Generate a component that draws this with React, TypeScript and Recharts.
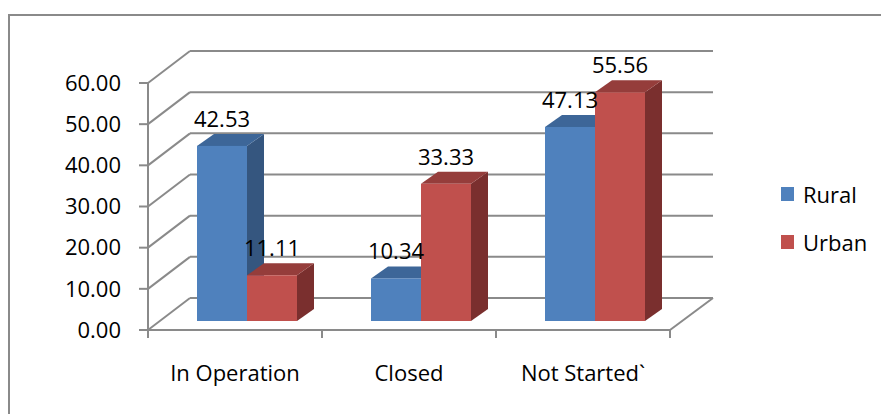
import React from 'react';
import { BarChart, Bar, XAxis, YAxis, CartesianGrid, Legend, LabelList } from 'recharts';

const categories = ['In Operation', 'Closed', 'Not Started`'];
const rural = [42.53, 10.34, 47.13];
const urban = [11.11, 33.33, 55.56];
const yTicks = [0, 10, 20, 30, 40, 50, 60];

const data = categories.map((name, i) => ({ name, rural: rural[i], urban: urban[i] }));

// 3d look: wall depth and bar depth offsets
const WALL_DX = 42;
const WALL_DY = -32;
const BAR_SHIFT_X = 12;
const BAR_SHIFT_Y = -9;
const BAR_DX = 17;
const BAR_DY = -12;

const GRID = '#8a8a8a';
const FONT = "'Open Sans', sans-serif";

const makeBox = (top: string, side: string) => (props: any) => {
  const { x, y, width, height, fill } = props;
  const fx = x + BAR_SHIFT_X;
  const fy = y + BAR_SHIFT_Y;
  const topFace = `${fx},${fy} ${fx + BAR_DX},${fy + BAR_DY} ${fx + width + BAR_DX},${fy + BAR_DY} ${fx + width},${fy}`;
  const sideFace = `${fx + width},${fy} ${fx + width + BAR_DX},${fy + BAR_DY} ${fx + width + BAR_DX},${fy + height + BAR_DY} ${fx + width},${fy + height}`;
  return (
    <g>
      <polygon points={sideFace} fill={side} />
      <polygon points={topFace} fill={top} />
      <rect x={fx} y={fy} width={width} height={height} fill={fill} />
    </g>
  );
};

const ValueLabel = (props: any) => {
  const { x, y, width, value } = props;
  return (
    <text
      x={x + width / 2 + BAR_SHIFT_X}
      y={y + BAR_SHIFT_Y - 19}
      textAnchor="middle"
      fontSize={22}
      fontFamily={FONT}
      fill="#000"
    >
      {Number(value).toFixed(2)}
    </text>
  );
};

const HLine = (props: any) => {
  const { x1, y1, x2, y, height } = props;
  const isFloor = Math.abs(y1 - (y + height)) < 1;
  return (
    <g>
      <line x1={x1} y1={y1} x2={x1 + WALL_DX} y2={y1 + WALL_DY} stroke={GRID} strokeWidth={2} />
      <line x1={x1 + WALL_DX} y1={y1 + WALL_DY} x2={x2 + WALL_DX + 1} y2={y1 + WALL_DY} stroke={GRID} strokeWidth={2} />
      {isFloor && (
        <line x1={x2} y1={y1} x2={x2 + WALL_DX + 1} y2={y1 + WALL_DY} stroke={GRID} strokeWidth={2} />
      )}
    </g>
  );
};

// category boundary ticks under the floor line (drawn from the band-centre grid points)
const VTick = (props: any) => {
  const { x1, y2, x, width } = props;
  const band = width / categories.length;
  const k = (x1 - x) / band - 0.5;
  const idx = Math.round(k);
  if (Math.abs(k - idx) > 0.05 || idx < 0 || idx >= categories.length) return <g />;
  const half = band / 2;
  return (
    <g>
      <line x1={x1 - half} y1={y2} x2={x1 - half} y2={y2 + 8} stroke={GRID} strokeWidth={2} />
      {idx === categories.length - 1 && (
        <line x1={x1 + half} y1={y2} x2={x1 + half} y2={y2 + 8} stroke={GRID} strokeWidth={2} />
      )}
    </g>
  );
};

const LegendBox = (props: any) => {
  const { payload } = props;
  return (
    <div style={{ fontFamily: FONT, fontSize: 22, color: '#000' }}>
      {(payload || []).map((p: any) => (
        <div key={p.value} style={{ height: 48, display: 'flex', alignItems: 'center' }}>
          <span style={{ display: 'inline-block', width: 13, height: 14, background: p.color, marginRight: 9 }} />
          <span>{p.value}</span>
        </div>
      ))}
    </div>
  );
};

export default function App() {
  return (
    <div style={{ position: 'absolute', left: 0, top: 0, width: 881, height: 414, overflow: 'hidden', background: '#fff' }}>
      <div
        style={{
          position: 'absolute',
          left: 8,
          top: 14,
          width: 950,
          height: 500,
          borderLeft: `2px solid ${GRID}`,
          borderTop: `2px solid ${GRID}`,
        }}
      />
      <div style={{ position: 'absolute', left: 0, top: 0 }}>
        <BarChart
          width={881}
          height={414}
          data={data}
          barGap={0}
          margin={{ top: 83, right: 211, bottom: 34, left: 48 }}
          style={{ fontFamily: FONT }}
        >
          <CartesianGrid horizontal={HLine} vertical={VTick} />
          <XAxis
            dataKey="name"
            height={50}
            axisLine={{ stroke: GRID, strokeWidth: 2 }}
            tickLine={false}
            tickSize={8}
            tickMargin={27}
            tick={{ fontSize: 22, fill: '#000' }}
            interval={0}
          />
          <YAxis
            domain={[0, 60]}
            ticks={yTicks}
            width={100}
            axisLine={{ stroke: GRID, strokeWidth: 2 }}
            tickLine={{ stroke: GRID, strokeWidth: 2 }}
            tickSize={9}
            tickMargin={18}
            tick={{ fontSize: 22, fill: '#000' }}
            tickFormatter={(v: number) => v.toFixed(2)}
          />
          <Legend
            layout="vertical"
            align="center"
            verticalAlign="middle"
            content={LegendBox}
            wrapperStyle={{ left: 781, top: 170, width: 100 }}
          />
          <Bar dataKey="rural" name="Rural" fill="#4F81BD" barSize={50} shape={makeBox('#3D6698', '#35567F')} isAnimationActive={false}>
            <LabelList dataKey="rural" content={ValueLabel} />
          </Bar>
          <Bar dataKey="urban" name="Urban" fill="#C0504D" barSize={50} shape={makeBox('#953D3B', '#7A2F2E')} isAnimationActive={false}>
            <LabelList dataKey="urban" content={ValueLabel} />
          </Bar>
        </BarChart>
      </div>
    </div>
  );
}
